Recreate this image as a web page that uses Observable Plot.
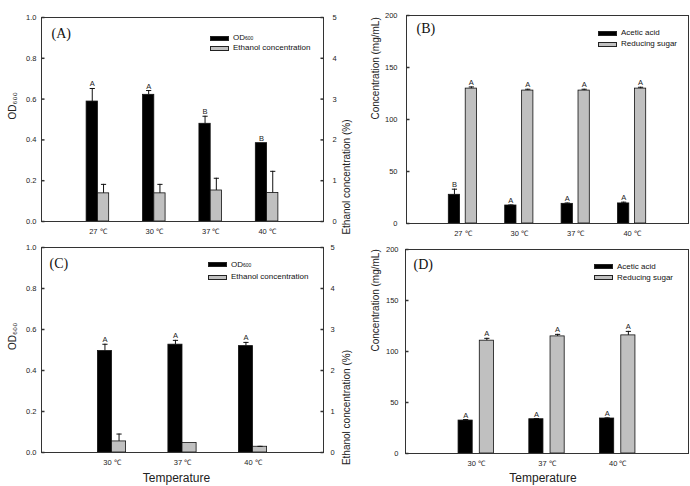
<!DOCTYPE html>
<html><head><meta charset="utf-8">
<script src="https://cdn.jsdelivr.net/npm/d3@7"></script>
<script src="https://cdn.jsdelivr.net/npm/@observablehq/plot@0.6"></script>
<style>
body{margin:0;background:#fff}
#root{position:relative;width:690px;height:486px;overflow:hidden;background:#fff;font-family:"Liberation Sans",Arial,sans-serif}
.panel{position:absolute}
.panel svg{overflow:visible}
.lg{position:absolute;height:10px;line-height:10px;font-size:8px;color:#111;white-space:nowrap;display:flex;align-items:center}
.sw{display:inline-block;width:19px;height:5px;box-sizing:border-box;border:1px solid #222}
.lg sub{font-size:5px;vertical-align:-2px}
</style></head><body><div id="root"></div>
<script>
// ---------- data ----------
const tempsAB = ["27 ℃", "30 ℃", "37 ℃", "40 ℃"];
const tempsCD = ["30 ℃", "37 ℃", "40 ℃"];

// Panel A: OD600 (left axis) and ethanol concentration % (right axis)
const odA = [0.588, 0.621, 0.479, 0.384];
const odAErr = [0.064, 0.021, 0.037, 0];
const odALetters = ["A", "A", "B", "B"];
const ethanolA = [0.69, 0.69, 0.76, 0.70];
const ethanolAErr = [0.22, 0.22, 0.30, 0.53];

// Panel B: acetic acid and reducing sugar (mg/mL)
const aceticB = [27.6, 17.3, 18.9, 19.3];
const aceticBErr = [5.4, 0.5, 0.8, 1.2];
const aceticBLetters = ["B", "A", "A", "A"];
const sugarB = [129.7, 127.8, 127.8, 129.7];
const sugarBErr = [1.6, 1.3, 1.3, 1.3];
const sugarBLetters = ["A", "A", "A", "A"];

// Panel C
const odC = [0.495, 0.526, 0.519];
const odCErr = [0.033, 0.021, 0.018];
const odCLetters = ["A", "A", "A"];
const ethanolC = [0.27, 0.23, 0.14];
const ethanolCErr = [0.18, 0, 0.01];

// Panel D
const aceticD = [32.3, 33.6, 34.3];
const aceticDErr = [1.0, 0.7, 0.6];
const aceticDLetters = ["A", "A", "A"];
const sugarD = [110.6, 114.8, 115.8];
const sugarDErr = [2.3, 2.0, 3.9];
const sugarDLetters = ["A", "A", "A"];

// tick values
const odTicks = [0, 0.2, 0.4, 0.6, 0.8, 1.0];
const ethanolTicks = [0, 1, 2, 3, 4, 5];
const concTicks = [0, 50, 100, 150, 200];

// ---------- drawing ----------
const BLACK = "#000", GREY = "#c0c0c0", INK = "#222";
const tickRight = {draw(ctx, size) { const r = Math.sqrt(size / Math.PI); ctx.moveTo(0, 0); ctx.lineTo(r, 0); }};
const tickLeft = {draw(ctx, size) { const r = Math.sqrt(size / Math.PI); ctx.moveTo(0, 0); ctx.lineTo(-r, 0); }};
const capSym = {draw(ctx, size) { const r = Math.sqrt(size / Math.PI); ctx.moveTo(-r, 0); ctx.lineTo(r, 0); }};

function makePanel(cfg) {
  const n = cfg.cats.length;
  const rows = [];
  cfg.series.forEach((s, k) => {
    const f = s.factor || 1;
    s.values.forEach((v, i) => {
      const x1 = i + 1 + cfg.offsets[k][0], x2 = i + 1 + cfg.offsets[k][1];
      rows.push({k, x1, x2, xc: (x1 + x2) / 2, v: v * f, top: (v + s.errors[i]) * f,
                 err: s.errors[i], letter: s.letters ? s.letters[i] : null});
    });
  });
  const marks = [];
  cfg.series.forEach((s, k) => {
    marks.push(Plot.rect(rows.filter(d => d.k === k), {
      x1: "x1", x2: "x2", y1: 0, y2: "v", fill: s.fill, stroke: "#111", strokeWidth: 0.8
    }));
  });
  const withErr = rows.filter(d => d.err > 0);
  marks.push(
    Plot.ruleX(withErr, {x: "xc", y1: "v", y2: "top", stroke: "#111", strokeWidth: 1}),
    Plot.dot(withErr, {x: "xc", y: "top", symbol: capSym, r: 2.6, stroke: "#111", fill: "none", strokeWidth: 1}),
    Plot.text(rows.filter(d => d.letter), {x: "xc", y: "top", text: "letter", lineAnchor: "bottom", dy: -2, fontSize: 7.5, fill: INK}),
    Plot.frame({stroke: "#333", strokeWidth: 1}),
    Plot.axisX({ticks: d3.range(1, n + 1), tickFormat: i => cfg.cats[i - 1], tickSize: 0, tickPadding: 7, fontSize: 7.5, label: null, fill: INK}),
    Plot.axisY({anchor: "left", ticks: cfg.leftTicks, tickFormat: cfg.leftFormat, tickSize: 0, tickPadding: cfg.leftPad, fontSize: 7.5, label: null, fill: INK}),
    Plot.dot(cfg.leftTicks, {y: d => d, frameAnchor: "left", symbol: tickRight, r: 3, stroke: "#333", fill: "none"}),
    Plot.text([cfg.yLabel], {text: d => d, frameAnchor: "left", rotate: -90, dx: cfg.yLabelDx, fontSize: 10, fill: INK}),
    Plot.text([cfg.tag], {text: d => d, frameAnchor: "top-left", textAnchor: "start", lineAnchor: "top", dx: cfg.tagDx, dy: cfg.tagDy, fontSize: 14, fontFamily: "'Liberation Serif','Times New Roman',serif", fill: "#111"})
  );
  if (cfg.rightTicks) {
    const scale = cfg.yMax / cfg.rightTicks[cfg.rightTicks.length - 1];
    marks.push(
      Plot.axisY({anchor: "right", ticks: cfg.rightTicks.map(t => t * scale), tickFormat: (d, i) => cfg.rightTicks[i], tickSize: 0, tickPadding: cfg.rightPad, fontSize: 7.5, label: null, fill: INK}),
      Plot.dot(cfg.rightTicks.map(t => t * scale), {y: d => d, frameAnchor: "right", symbol: tickLeft, r: 3, stroke: "#333", fill: "none"}),
      Plot.text([cfg.rightLabel], {text: d => d, frameAnchor: "right", rotate: -90, dx: cfg.rightLabelDx, fontSize: 10, fill: INK})
    );
  }
  if (cfg.xTitle) {
    marks.push(Plot.text([cfg.xTitle], {text: d => d, frameAnchor: "bottom", lineAnchor: "top", dy: cfg.xTitleDy, dx: cfg.xTitleDx, fontSize: 12, fill: INK}));
  }
  const L = cfg.layout;
  const chart = Plot.plot({
    width: L.w, height: L.h,
    marginLeft: L.ml, marginRight: L.mr, marginTop: L.mt, marginBottom: L.mb,
    x: {type: "linear", domain: [0, n + 1]},
    y: {domain: [0, cfg.yMax]},
    style: {background: "transparent", overflow: "visible", fontFamily: "'Liberation Sans',Arial,sans-serif", fontSize: "7.5px", color: INK},
    marks
  });
  const div = document.createElement("div");
  div.className = "panel";
  div.style.left = L.x + "px"; div.style.top = L.y + "px";
  div.appendChild(chart);
  document.getElementById("root").appendChild(div);
}

function legend(x, y, gap, entries) {
  entries.forEach((e, j) => {
    const row = document.createElement("div");
    row.className = "lg";
    row.style.left = x + "px";
    row.style.top = (y[j] - 5) + "px";
    row.innerHTML = `<span class="sw" style="background:${e.fill};margin-right:${gap}px"></span>${e.html}`;
    document.getElementById("root").appendChild(row);
  });
}

const fmt1 = d3.format(".1f");
const odLabel = "OD₆₀₀";

makePanel({
  cats: tempsAB, yMax: 1, leftTicks: odTicks, leftFormat: fmt1, leftPad: 5,
  rightTicks: ethanolTicks, rightPad: 9, rightLabel: "Ethanol concentration (%)", rightLabelDx: 23,
  yLabel: odLabel, yLabelDx: -29, tag: "(A)", tagDx: 10, tagDy: 11,
  offsets: [[-0.2, 0], [0, 0.2]],
  series: [
    {values: odA, errors: odAErr, letters: odALetters, fill: BLACK},
    {values: ethanolA, errors: ethanolAErr, fill: GREY, factor: 0.2}
  ],
  layout: {x: 0, y: 0, w: 360, h: 243, ml: 41, mr: 37, mt: 17, mb: 22}
});
makePanel({
  cats: tempsAB, yMax: 200, leftTicks: concTicks, leftFormat: d => d, leftPad: 9,
  yLabel: "Concentration (mg/mL)", yLabelDx: -31, tag: "(B)", tagDx: 10, tagDy: 8,
  offsets: [[-0.25, -0.05], [0.05, 0.25]],
  series: [
    {values: aceticB, errors: aceticBErr, letters: aceticBLetters, fill: BLACK},
    {values: sugarB, errors: sugarBErr, letters: sugarBLetters, fill: GREY}
  ],
  layout: {x: 360, y: 0, w: 330, h: 243, ml: 46, mr: 2, mt: 15, mb: 20}
});
makePanel({
  cats: tempsCD, yMax: 1, leftTicks: odTicks, leftFormat: fmt1, leftPad: 5,
  rightTicks: ethanolTicks, rightPad: 7, rightLabel: "Ethanol concentration (%)", rightLabelDx: 23,
  yLabel: odLabel, yLabelDx: -29, tag: "(C)", tagDx: 8, tagDy: 11,
  offsets: [[-0.2, 0], [0, 0.2]],
  xTitle: "Temperature", xTitleDx: -6, xTitleDy: 21,
  series: [
    {values: odC, errors: odCErr, letters: odCLetters, fill: BLACK},
    {values: ethanolC, errors: ethanolCErr, fill: GREY, factor: 0.2}
  ],
  layout: {x: 0, y: 243, w: 360, h: 243, ml: 41, mr: 37, mt: 4, mb: 34}
});
makePanel({
  cats: tempsCD, yMax: 200, leftTicks: concTicks, leftFormat: d => d, leftPad: 7,
  yLabel: "Concentration (mg/mL)", yLabelDx: -30, tag: "(D)", tagDx: 8, tagDy: 10,
  offsets: [[-0.25, -0.05], [0.05, 0.25]],
  xTitle: "Temperature", xTitleDx: -4, xTitleDy: 20,
  series: [
    {values: aceticD, errors: aceticDErr, letters: aceticDLetters, fill: BLACK},
    {values: sugarD, errors: sugarDErr, letters: sugarDLetters, fill: GREY}
  ],
  layout: {x: 360, y: 243, w: 330, h: 243, ml: 45, mr: 2, mt: 6, mb: 33}
});

const odHtml = "OD<sub>600</sub>";
legend(210, [38, 48], 4, [{fill: BLACK, html: odHtml}, {fill: GREY, html: "Ethanol concentration"}]);
legend(598, [33, 44], 4, [{fill: BLACK, html: "Acetic acid"}, {fill: GREY, html: "Reducing sugar"}]);
legend(208, [264.5, 277], 4, [{fill: BLACK, html: odHtml}, {fill: GREY, html: "Ethanol concentration"}]);
legend(594, [266.5, 277.5], 4, [{fill: BLACK, html: "Acetic acid"}, {fill: GREY, html: "Reducing sugar"}]);
</script></body></html>
